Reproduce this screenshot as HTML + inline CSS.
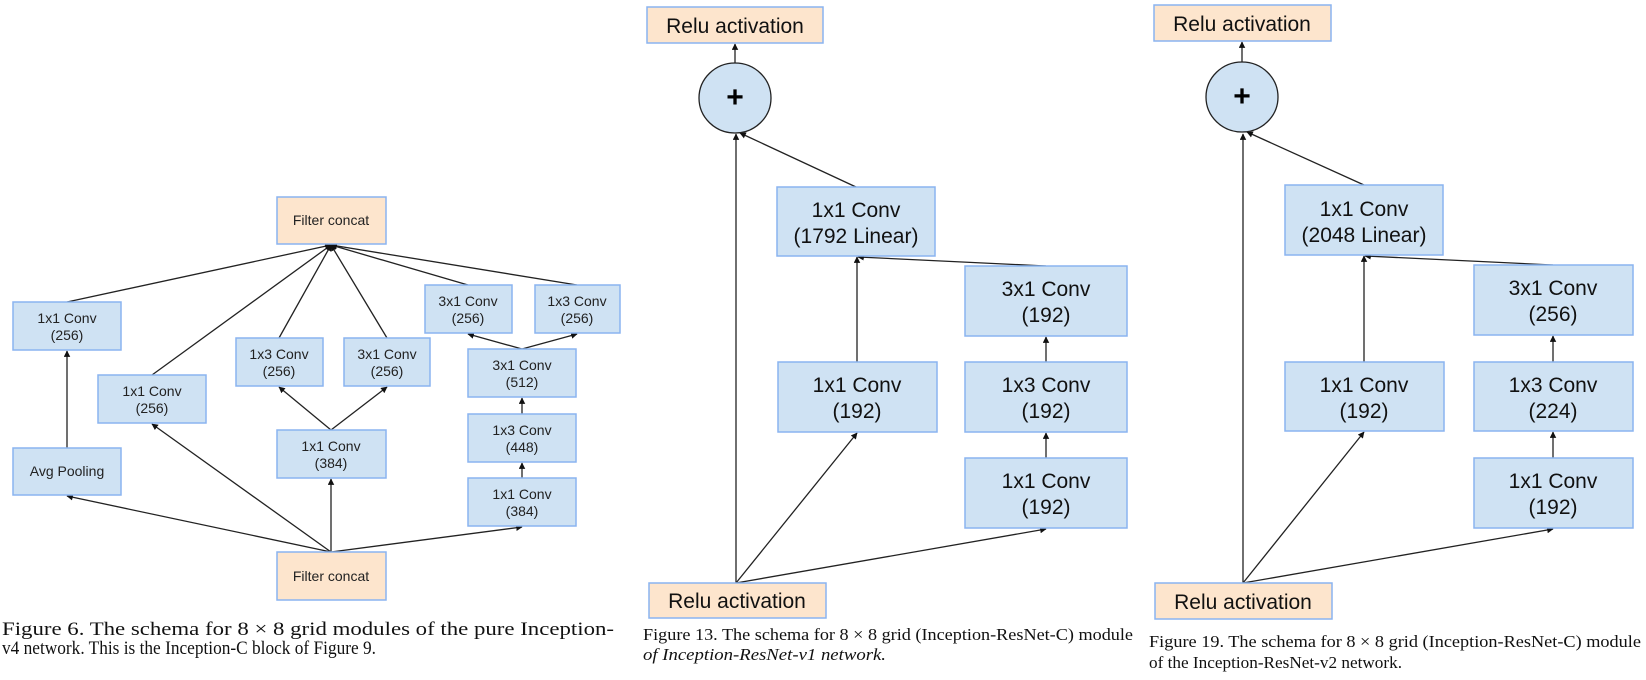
<!DOCTYPE html>
<html><head><meta charset="utf-8"><style>
html,body{margin:0;padding:0;background:#fff;}
svg{display:block;}
</style></head><body>
<svg width="1646" height="680" viewBox="0 0 1646 680" xmlns="http://www.w3.org/2000/svg">
<defs>
<marker id="a" viewBox="0 0 10 10" refX="9" refY="5" markerWidth="5" markerHeight="5" orient="auto"><path d="M0,0 L10,5 L0,10 z" fill="#111"/></marker>
</defs>
<style>
.b{fill:#cfe2f3;stroke:#8ab4f0;stroke-width:1.5}
.o{fill:#fde5cd;stroke:#8ab4f0;stroke-width:1.5}
.l{stroke:#222;stroke-width:1.3;fill:none}
.s{font-family:"Liberation Sans",sans-serif;font-size:14px;fill:#222;text-anchor:middle}
.m{font-family:"Liberation Sans",sans-serif;font-size:21px;fill:#111;text-anchor:middle}
.c{font-family:"Liberation Serif",serif;fill:#111}
</style>

<!-- Figure 6 -->
<g>
<line class="l" x1="331" y1="552" x2="67" y2="496" marker-end="url(#a)"/>
<line class="l" x1="331" y1="552" x2="152" y2="424" marker-end="url(#a)"/>
<line class="l" x1="331" y1="552" x2="331" y2="479" marker-end="url(#a)"/>
<line class="l" x1="331" y1="552" x2="522" y2="527" marker-end="url(#a)"/>
<line class="l" x1="67" y1="448" x2="67" y2="351" marker-end="url(#a)"/>
<line class="l" x1="331" y1="430" x2="279" y2="387" marker-end="url(#a)"/>
<line class="l" x1="331" y1="430" x2="387" y2="387" marker-end="url(#a)"/>
<line class="l" x1="522" y1="478" x2="522" y2="463" marker-end="url(#a)"/>
<line class="l" x1="522" y1="414" x2="522" y2="398" marker-end="url(#a)"/>
<line class="l" x1="522" y1="349" x2="468" y2="334" marker-end="url(#a)"/>
<line class="l" x1="522" y1="349" x2="577" y2="334" marker-end="url(#a)"/>
<line class="l" x1="67" y1="302" x2="331" y2="245" marker-end="url(#a)"/>
<line class="l" x1="152" y1="375" x2="331" y2="245" marker-end="url(#a)"/>
<line class="l" x1="279" y1="338" x2="331" y2="245" marker-end="url(#a)"/>
<line class="l" x1="387" y1="338" x2="331" y2="245" marker-end="url(#a)"/>
<line class="l" x1="468" y1="285" x2="331" y2="245" marker-end="url(#a)"/>
<line class="l" x1="577" y1="285" x2="331" y2="245" marker-end="url(#a)"/>

<rect class="o" x="277" y="197" width="109" height="47"/><text class="s" x="331" y="225">Filter concat</text>
<rect class="b" x="13" y="302" width="108" height="48"/><text class="s" x="67" y="323">1x1 Conv</text><text class="s" x="67" y="340">(256)</text>
<rect class="b" x="98" y="375" width="108" height="48"/><text class="s" x="152" y="396">1x1 Conv</text><text class="s" x="152" y="413">(256)</text>
<rect class="b" x="236" y="338" width="87" height="48"/><text class="s" x="279" y="359">1x3 Conv</text><text class="s" x="279" y="376">(256)</text>
<rect class="b" x="344" y="338" width="86" height="48"/><text class="s" x="387" y="359">3x1 Conv</text><text class="s" x="387" y="376">(256)</text>
<rect class="b" x="277" y="430" width="109" height="48"/><text class="s" x="331" y="451">1x1 Conv</text><text class="s" x="331" y="468">(384)</text>
<rect class="b" x="13" y="448" width="108" height="47"/><text class="s" x="67" y="476">Avg Pooling</text>
<rect class="b" x="425" y="285" width="87" height="48"/><text class="s" x="468" y="306">3x1 Conv</text><text class="s" x="468" y="323">(256)</text>
<rect class="b" x="535" y="285" width="85" height="48"/><text class="s" x="577" y="306">1x3 Conv</text><text class="s" x="577" y="323">(256)</text>
<rect class="b" x="468" y="349" width="108" height="48"/><text class="s" x="522" y="370">3x1 Conv</text><text class="s" x="522" y="387">(512)</text>
<rect class="b" x="468" y="414" width="108" height="48"/><text class="s" x="522" y="435">1x3 Conv</text><text class="s" x="522" y="452">(448)</text>
<rect class="b" x="468" y="478" width="108" height="48"/><text class="s" x="522" y="499">1x1 Conv</text><text class="s" x="522" y="516">(384)</text>
<rect class="o" x="277" y="552" width="109" height="48"/><text class="s" x="331" y="581">Filter concat</text>
<text class="c" x="2" y="635" font-size="19" textLength="612" lengthAdjust="spacingAndGlyphs">Figure 6. The schema for 8 × 8 grid modules of the pure Inception-</text>
<text class="c" x="2" y="654" font-size="19" textLength="374" lengthAdjust="spacingAndGlyphs">v4 network. This is the Inception-C block of Figure 9.</text>
</g>

<!-- Figure 13 & 19 -->
<g id="f13">
<line class="l" x1="736" y1="583" x2="736" y2="134" marker-end="url(#a)"/>
<line class="l" x1="736" y1="583" x2="857" y2="433" marker-end="url(#a)"/>
<line class="l" x1="736" y1="583" x2="1046" y2="529" marker-end="url(#a)"/>
<line class="l" x1="1046" y1="458" x2="1046" y2="433" marker-end="url(#a)"/>
<line class="l" x1="1046" y1="362" x2="1046" y2="337" marker-end="url(#a)"/>
<line class="l" x1="857" y1="362" x2="857" y2="257" marker-end="url(#a)"/>
<line class="l" x1="1046" y1="266" x2="858" y2="257" marker-end="url(#a)"/>
<line class="l" x1="856" y1="187" x2="740" y2="133" marker-end="url(#a)"/>
<line class="l" x1="735" y1="63" x2="735" y2="44" marker-end="url(#a)"/>
<rect class="o" x="647" y="7" width="176" height="36"/><text class="m" x="735" y="33">Relu activation</text>
<ellipse cx="735" cy="98" rx="36" ry="35" fill="#cfe2f3" stroke="#222" stroke-width="1.3"/>
<text x="735" y="107" font-family="Liberation Sans,sans-serif" font-size="30" font-weight="bold" text-anchor="middle" fill="#000">+</text>
<rect class="b" x="777" y="187" width="158" height="69"/><text class="m" x="856" y="217">1x1 Conv</text><text class="m" x="856" y="243">(1792 Linear)</text>
<rect class="b" x="965" y="266" width="162" height="70"/><text class="m" x="1046" y="296">3x1 Conv</text><text class="m" x="1046" y="322">(192)</text>
<rect class="b" x="778" y="362" width="159" height="70"/><text class="m" x="857" y="392">1x1 Conv</text><text class="m" x="857" y="418">(192)</text>
<rect class="b" x="965" y="362" width="162" height="70"/><text class="m" x="1046" y="392">1x3 Conv</text><text class="m" x="1046" y="418">(192)</text>
<rect class="b" x="965" y="458" width="162" height="70"/><text class="m" x="1046" y="488">1x1 Conv</text><text class="m" x="1046" y="514">(192)</text>
<rect class="o" x="649" y="583" width="177" height="35"/><text class="m" x="737" y="608">Relu activation</text>
<text class="c" x="643" y="640" font-size="16.5" textLength="490" lengthAdjust="spacingAndGlyphs">Figure 13. The schema for 8 × 8 grid (Inception-ResNet-C) module</text>
<text class="c" x="643" y="660" font-size="16.5" font-style="italic" textLength="243" lengthAdjust="spacingAndGlyphs">of Inception-ResNet-v1 network.</text>
</g>

<g>
<line class="l" x1="1243" y1="583" x2="1243" y2="134" marker-end="url(#a)"/>
<line class="l" x1="1243" y1="583" x2="1364" y2="432" marker-end="url(#a)"/>
<line class="l" x1="1243" y1="583" x2="1553" y2="529" marker-end="url(#a)"/>
<line class="l" x1="1553" y1="458" x2="1553" y2="432" marker-end="url(#a)"/>
<line class="l" x1="1553" y1="362" x2="1553" y2="336" marker-end="url(#a)"/>
<line class="l" x1="1364" y1="362" x2="1364" y2="256" marker-end="url(#a)"/>
<line class="l" x1="1553" y1="265" x2="1365" y2="256" marker-end="url(#a)"/>
<line class="l" x1="1364" y1="185" x2="1247" y2="132" marker-end="url(#a)"/>
<line class="l" x1="1242" y1="62" x2="1242" y2="42" marker-end="url(#a)"/>
<rect class="o" x="1154" y="5" width="177" height="36"/><text class="m" x="1242" y="31">Relu activation</text>
<ellipse cx="1242" cy="97" rx="36" ry="35" fill="#cfe2f3" stroke="#222" stroke-width="1.3"/>
<text x="1242" y="106" font-family="Liberation Sans,sans-serif" font-size="30" font-weight="bold" text-anchor="middle" fill="#000">+</text>
<rect class="b" x="1285" y="185" width="158" height="70"/><text class="m" x="1364" y="216">1x1 Conv</text><text class="m" x="1364" y="242">(2048 Linear)</text>
<rect class="b" x="1474" y="265" width="159" height="70"/><text class="m" x="1553" y="295">3x1 Conv</text><text class="m" x="1553" y="321">(256)</text>
<rect class="b" x="1285" y="362" width="159" height="69"/><text class="m" x="1364" y="392">1x1 Conv</text><text class="m" x="1364" y="418">(192)</text>
<rect class="b" x="1474" y="362" width="159" height="69"/><text class="m" x="1553" y="392">1x3 Conv</text><text class="m" x="1553" y="418">(224)</text>
<rect class="b" x="1474" y="458" width="159" height="70"/><text class="m" x="1553" y="488">1x1 Conv</text><text class="m" x="1553" y="514">(192)</text>
<rect class="o" x="1155" y="583" width="177" height="36"/><text class="m" x="1243" y="609">Relu activation</text>
<text class="c" x="1149" y="647" font-size="16.5" textLength="492" lengthAdjust="spacingAndGlyphs">Figure 19. The schema for 8 × 8 grid (Inception-ResNet-C) module</text>
<text class="c" x="1149" y="668" font-size="16.5" textLength="253" lengthAdjust="spacingAndGlyphs">of the Inception-ResNet-v2 network.</text>
</g>
</svg>
</body></html>
